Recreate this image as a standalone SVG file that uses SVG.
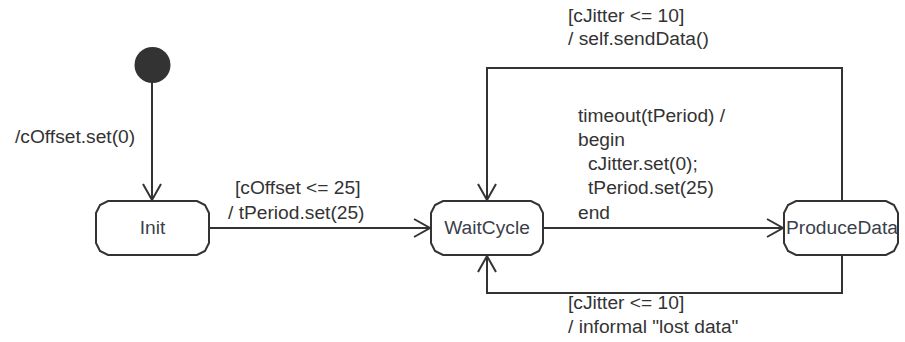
<svg xmlns="http://www.w3.org/2000/svg" width="905" height="342" viewBox="0 0 905 342">
<defs>
<style>
text{font-family:"Liberation Sans",Arial,sans-serif;font-size:19.2px;fill:#333}
.node{fill:#fff;stroke:#333;stroke-width:2}
.edge{fill:none;stroke:#333;stroke-width:2}
.lbl{text-anchor:middle;fill:#3a3f4a}
</style>
<marker id="arr" markerUnits="userSpaceOnUse" markerWidth="20" markerHeight="22" refX="17" refY="10" orient="auto" viewBox="0 0 20 22">
<path d="M1,1 L17,10 L1,19" fill="none" stroke="#333" stroke-width="2"/>
</marker>
</defs>
<rect width="905" height="342" fill="#fff"/>
<g id="connectors">
<path class="edge" d="M152,65 L152,200" marker-end="url(#arr)"/>
<path class="edge" d="M209,228 L430,228" marker-end="url(#arr)"/>
<path class="edge" d="M543,228 L783,228" marker-end="url(#arr)"/>
<path class="edge" d="M842,201 L842,68 L487,68 L487,200" marker-end="url(#arr)"/>
<path class="edge" d="M842,255 L842,293 L487,293 L487,256" marker-end="url(#arr)"/>
</g>
<g id="start">
<circle cx="152.5" cy="65" r="18" fill="#333"/>
</g>
<g id="init">
<path class="node" d="M108,201 L197,201 L205,205 L209,213 L209,243 L205,251 L197,255 L108,255 L100,251 L96,243 L96,213 L100,205 Z"/>
<text class="lbl" x="152.5" y="234">Init</text>
</g>
<g id="waitcycle">
<path class="node" d="M443,201 L531,201 L539,205 L543,213 L543,243 L539,251 L531,255 L443,255 L435,251 L431,243 L431,213 L435,205 Z"/>
<text class="lbl" x="487" y="234">WaitCycle</text>
</g>
<g id="producedata">
<path class="node" d="M796,201 L886,201 L894,205 L898,213 L898,243 L894,251 L886,255 L796,255 L788,251 L784,243 L784,213 L788,205 Z"/>
<text class="lbl" x="842" y="234">ProduceData</text>
</g>
<g id="labels">
<text x="15" y="143">/cOffset.set(0)</text>
<text x="235" y="194">[cOffset &lt;= 25]</text>
<text x="228" y="219">/ tPeriod.set(25)</text>
<text x="568" y="22">[cJitter &lt;= 10]</text>
<text x="568" y="45">/ self.sendData()</text>
<text x="578" y="122">timeout(tPeriod) /</text>
<text x="578" y="146">begin</text>
<text x="588" y="170">cJitter.set(0);</text>
<text x="588" y="194">tPeriod.set(25)</text>
<text x="578" y="219">end</text>
<text x="568" y="309">[cJitter &lt;= 10]</text>
<text x="568" y="333">/ informal "lost data"</text>
</g>
</svg>
